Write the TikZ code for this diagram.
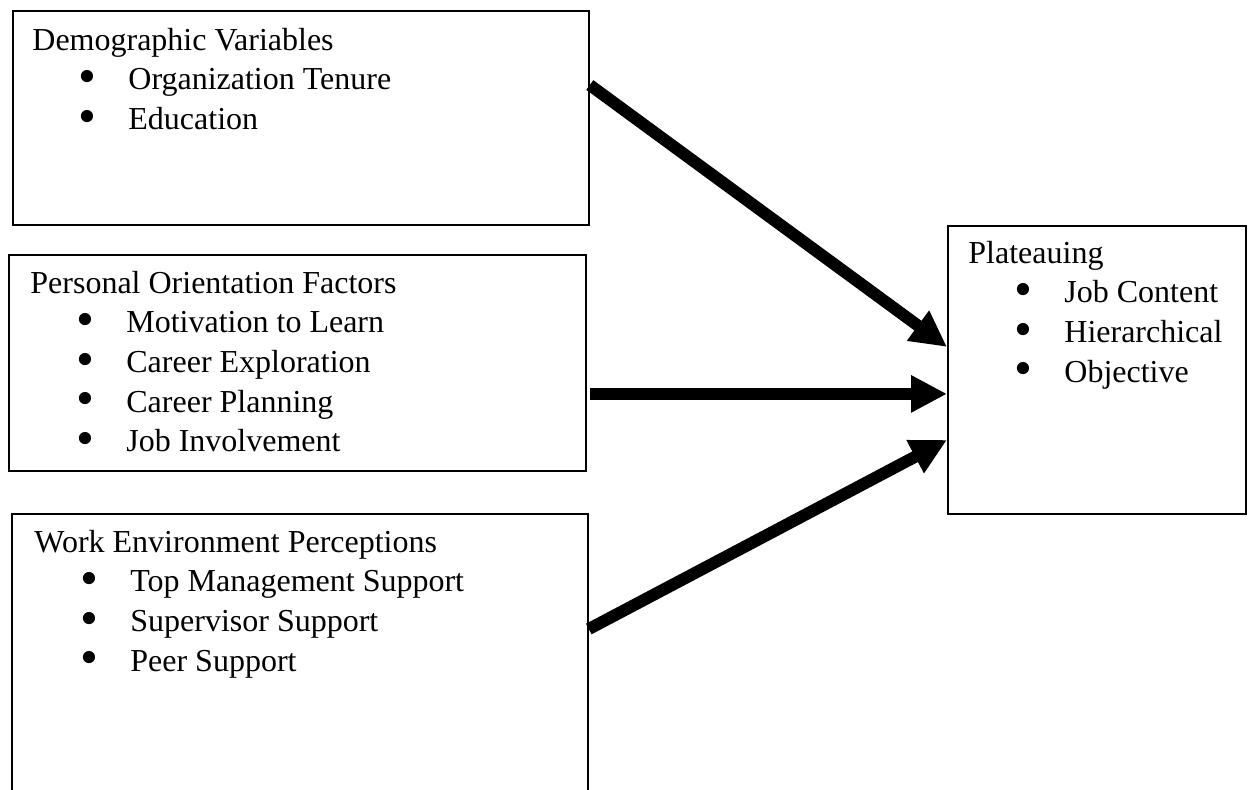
\documentclass[tikz,border=0pt]{standalone}
\usepackage{fontspec}
\setmainfont{Liberation Serif}
\usepackage{tikz}
\usetikzlibrary{arrows.meta,positioning}
\newcommand{\boxfont}{\fontsize{16}{19.85}\selectfont}
\newcommand{\bitem}[1]{\hspace*{23pt}\makebox[25pt][l]{\raisebox{-0.25ex}{\scalebox{1.6}{\textbullet}}}#1}

\begin{document}
\begin{tikzpicture}[
  x=0.5pt, y=-0.5pt,
  box/.style={draw, line width=0.9pt, anchor=north west, inner sep=0pt},
  boxtext/.style={anchor=base west, inner sep=0pt, font=\boxfont},
  arrow/.style={-{Triangle[length=18pt, width=17.5pt]}, line width=6pt},
]
  \clip (0,0) rectangle (1255,789);

  % Demographic variables
  \node[box, minimum width=288pt, minimum height=107pt] (demo) at (12,10) {};
  \node[boxtext] (demotext) at ([xshift=10pt, yshift=-20pt]demo.north west)
    {\begin{tabular}[t]{@{}l@{}}
     Demographic Variables\\
     \bitem{Organization Tenure}\\
     \bitem{Education}
     \end{tabular}};

  % Personal orientation
  \node[box, minimum width=288.5pt, minimum height=108pt] (pers) at (8,254) {};
  \node[boxtext] (perstext) at ([xshift=11pt, yshift=-19.5pt]pers.north west)
    {\begin{tabular}[t]{@{}l@{}}
     Personal Orientation Factors\\
     \bitem{Motivation to Learn}\\
     \bitem{Career Exploration}\\
     \bitem{Career Planning}\\
     \bitem{Job Involvement}
     \end{tabular}};

  % Work environment (runs off the bottom)
  \node[box, minimum width=288pt, minimum height=145pt] (work) at (11,513) {};
  \node[boxtext] (worktext) at ([xshift=11.5pt, yshift=-19.5pt]work.north west)
    {\begin{tabular}[t]{@{}l@{}}
     Work Environment Perceptions\\
     \bitem{Top Management Support}\\
     \bitem{Supervisor Support}\\
     \bitem{Peer Support}
     \end{tabular}};

  % Plateauing
  \node[box, minimum width=149pt, minimum height=144pt] (plat) at (947,225) {};
  \node[boxtext] (plattext) at ([xshift=10.5pt, yshift=-19pt]plat.north west)
    {\begin{tabular}[t]{@{}l@{}}
     Plateauing\\
     \bitem{Job Content}\\
     \bitem{Hierarchical}\\
     \bitem{Objective}
     \end{tabular}};

  % Arrows
  \draw[arrow] ([yshift=-37.5pt]demo.north east) -- ([yshift=11.5pt]plat.west);
  \draw[arrow] ([xshift=1.5pt, yshift=-15.5pt]pers.east) -- ([yshift=-12pt]plat.west);
  \draw[arrow] ([yshift=-58pt]work.north east) -- ([yshift=-35pt]plat.west);
\end{tikzpicture}
\end{document}
